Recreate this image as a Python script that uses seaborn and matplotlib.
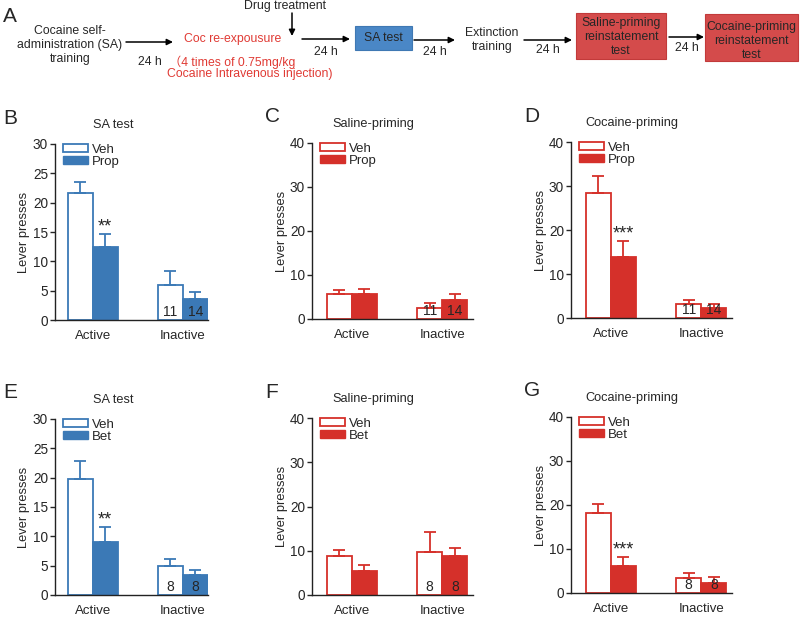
import numpy as np
import pandas as pd
import matplotlib.pyplot as plt
import seaborn as sns
from matplotlib.patches import Patch, Rectangle

sns.set_style("ticks")
plt.rcParams['font.family'] = ['Liberation Sans', 'DejaVu Sans']

levers = ['Active', 'Inactive']

# Propranolol experiment (B, C, D)
b_veh, b_veh_sem = [21.7, 6.0], [1.9, 2.4]
b_prop, b_prop_sem = [12.5, 3.6], [2.2, 1.1]
c_veh, c_veh_sem = [5.7, 2.6], [0.9, 1.0]
c_prop, c_prop_sem = [5.7, 4.3], [1.2, 1.3]
d_veh, d_veh_sem = [28.3, 3.2], [4.0, 1.0]
d_prop, d_prop_sem = [13.8, 2.3], [3.6, 0.8]
prop_n = [11, 14]

# Betaxolol experiment (E, F, G)
e_veh, e_veh_sem = [19.8, 5.0], [3.0, 1.1]
e_bet, e_bet_sem = [9.1, 3.4], [2.5, 0.9]
f_veh, f_veh_sem = [8.8, 9.7], [1.4, 4.5]
f_bet, f_bet_sem = [5.4, 8.9], [1.3, 1.7]
g_veh, g_veh_sem = [18.2, 3.3], [2.1, 1.3]
g_bet, g_bet_sem = [6.2, 2.3], [1.9, 1.3]
bet_n = [8, 8]

blue = '#3b79b6'
red = '#d5302a'

W, H = 800, 618
fig = plt.figure(figsize=(8, 6.18), dpi=100)

# ---- panel A: schematic, drawn in pixel coordinates ----
ax0 = fig.add_axes([0, 0, 1, 1])
ax0.set_xlim(0, W)
ax0.set_ylim(H, 0)
ax0.axis('off')

fs = 8.8
arrow = dict(arrowstyle='-|>', color='k', lw=1.1, mutation_scale=9, shrinkA=0, shrinkB=0)

def harrow(x0, x1, y, ty):
    ax0.annotate('', xy=(x1, y), xytext=(x0, y), arrowprops=arrow)
    ax0.text((x0 + x1) / 2, ty, '24 h', ha='center', va='center', fontsize=fs)

def box(x0, y0, x1, y1, color, edge, label, ty):
    ax0.add_patch(Rectangle((x0, y0), x1 - x0, y1 - y0, facecolor=color, edgecolor=edge, lw=0.8))
    ax0.text((x0 + x1) / 2, ty, label, ha='center', va='center', fontsize=fs, linespacing=1.2)

ax0.text(3, 17, 'A', fontsize=15, ha='left', va='center')
ax0.text(70, 45, 'Cocaine self-\nadministration (SA)\ntraining', ha='center', va='center',
         fontsize=fs, linespacing=1.25)
harrow(126, 173, 42, 62)
ax0.text(233, 39, 'Coc re-expousure', color='#e03a34', ha='center', va='center', fontsize=fs)
ax0.text(232, 62, '\uff084 times of 0.75mg/kg', color='#e03a34', ha='center', va='center', fontsize=fs,
         family=['Liberation Sans', 'Noto Sans CJK SC'])
ax0.text(250, 74, 'Cocaine Intravenous injection)', color='#e03a34', ha='center', va='center', fontsize=fs)
ax0.text(285, 6, 'Drug treatment', ha='center', va='center', fontsize=fs)
ax0.annotate('', xy=(292, 36), xytext=(292, 13), arrowprops=arrow)
harrow(302, 350, 39, 52)
box(355, 26, 412, 50, '#4a87c6', '#3f78b3', 'SA test', 38)
harrow(414, 455, 40, 52)
ax0.text(492, 40, 'Extinction\ntraining', ha='center', va='center', fontsize=fs, linespacing=1.25)
harrow(524, 572, 40, 50)
box(576, 13, 666, 59, '#d44b4b', '#c23a3a', 'Saline-priming\nreinstatement\ntest', 37)
harrow(669, 704, 37, 48)
box(705, 14, 798, 61, '#d44b4b', '#c23a3a', 'Cocaine-priming\nreinstatement\ntest', 41)

# ---- bar panels ----
def draw_panel(px, letter, title, drug, veh, veh_sem, trt, trt_sem, n, color, ymax, ystep, stars, xlim):
    left, top, right, bottom = px
    ax = fig.add_axes([left / W, 1 - bottom / H, (right - left) / W, (bottom - top) / H])
    df = pd.DataFrame({'lever': levers * 2,
                       'group': ['Veh'] * 2 + [drug] * 2,
                       'presses': veh + trt})
    sns.barplot(data=df, x='lever', y='presses', hue='group', palette={'Veh': color, drug: color},
                width=0.556, saturation=1, errorbar=None, legend=False, ax=ax)
    centers = []
    for i, (means, sems) in enumerate([(veh, veh_sem), (trt, trt_sem)]):
        bars = ax.containers[i]
        xs = [b.get_x() + b.get_width() / 2 for b in bars]
        centers.append(xs)
        for b in bars:
            b.set_edgecolor(color)
            b.set_linewidth(1.3)
            if i == 0:
                b.set_facecolor('white')
        ax.errorbar(xs, means, yerr=[np.zeros(len(means)), sems], fmt='none', ecolor=color,
                    elinewidth=1.3, capsize=4.5, capthick=1.3, zorder=1)
        ax.annotate(str(n[i]), (xs[1], 0), xytext=(0, 0.5), textcoords='offset points',
                    ha='center', va='bottom', fontsize=10)
    if stars:
        ax.annotate(stars, (centers[1][0], trt[0] + trt_sem[0]), xytext=(0, -1), textcoords='offset points',
                    ha='center', va='bottom', fontsize=13)

    ax.set_xlim(*xlim)
    ax.set_ylim(0, ymax)
    ax.set_yticks(np.arange(0, ymax + 1, ystep))
    ax.set_xlabel('')
    ax.set_ylabel('Lever presses', fontsize=9.3)
    ax.yaxis.set_label_coords(-25 / (right - left) if left < 100 else -24 / (right - left), 0.5)
    ax.tick_params(axis='y', length=3.5, width=1, labelsize=9.8, pad=1.5)
    ax.tick_params(axis='x', length=0, labelsize=9.5, pad=7)
    for s in ['left', 'bottom']:
        ax.spines[s].set_linewidth(1)
        ax.spines[s].set_color('#222222')
    sns.despine(ax=ax)

    handles = [Patch(facecolor='white', edgecolor=color, lw=1.3), Patch(facecolor=color, edgecolor=color)]
    ax.legend(handles, ['Veh', drug], loc='upper left', bbox_to_anchor=(8 / (right - left), 1.0),
              frameon=False, fontsize=9.5, handlelength=1.9, handleheight=0.55, handletextpad=0.3,
              labelspacing=0.0, borderpad=0, borderaxespad=0)
    ax.annotate(title, (0.38, 1), xycoords='axes fraction', xytext=(0, 14), textcoords='offset points',
                ha='center', va='center', fontsize=9.2)
    ax0.text(left - 52 if left < 100 else left - 47, top - 26, letter, fontsize=15, ha='left', va='center')
    return ax

xl_b = (-0.42, 1.28)
xl_c = (-0.44, 1.34)
draw_panel((55, 144, 208, 320), 'B', 'SA test', 'Prop', b_veh, b_veh_sem, b_prop, b_prop_sem,
           prop_n, blue, 30, 5, '**', xl_b)
draw_panel((312, 143, 473, 319), 'C', 'Saline-priming', 'Prop', c_veh, c_veh_sem, c_prop, c_prop_sem,
           prop_n, red, 40, 10, None, xl_c)
draw_panel((571, 142, 732, 318), 'D', 'Cocaine-priming', 'Prop', d_veh, d_veh_sem, d_prop, d_prop_sem,
           prop_n, red, 40, 10, '***', xl_c)
draw_panel((55, 419, 208, 595), 'E', 'SA test', 'Bet', e_veh, e_veh_sem, e_bet, e_bet_sem,
           bet_n, blue, 30, 5, '**', xl_b)
draw_panel((312, 418, 473, 595), 'F', 'Saline-priming', 'Bet', f_veh, f_veh_sem, f_bet, f_bet_sem,
           bet_n, red, 40, 10, None, xl_c)
draw_panel((571, 417, 732, 593), 'G', 'Cocaine-priming', 'Bet', g_veh, g_veh_sem, g_bet, g_bet_sem,
           bet_n, red, 40, 10, '***', xl_c)

fig.savefig('out.png', dpi=100)
